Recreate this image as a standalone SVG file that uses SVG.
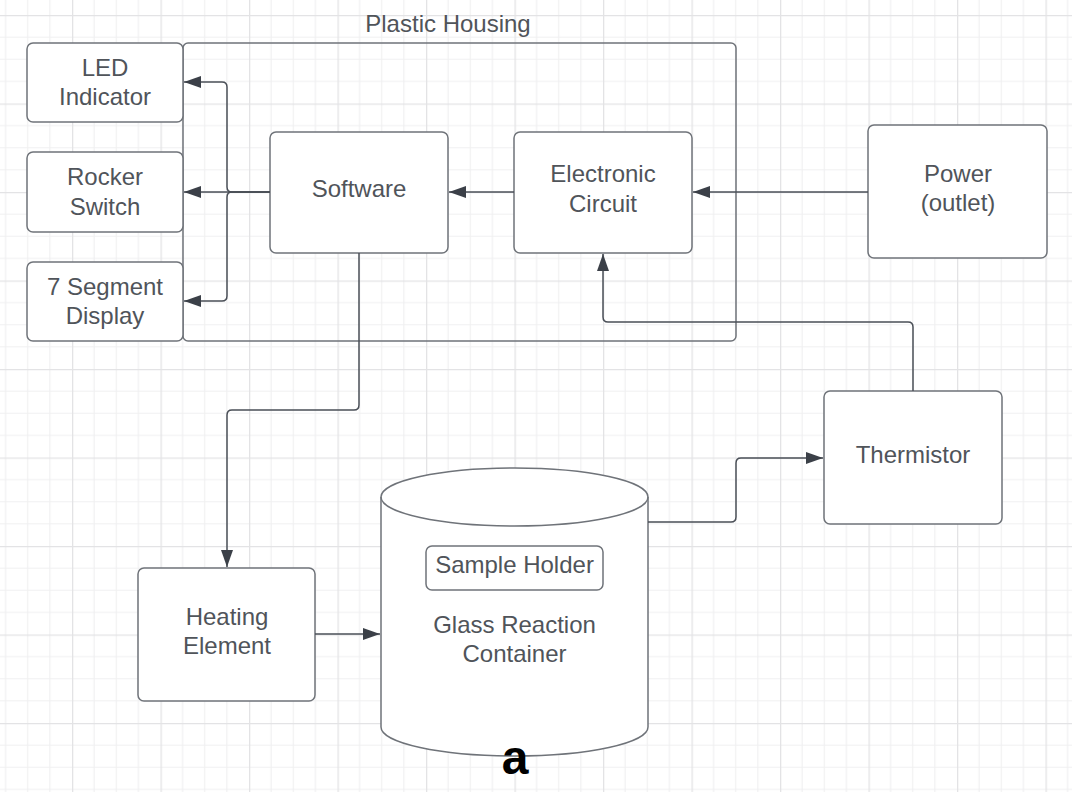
<svg xmlns="http://www.w3.org/2000/svg" width="1072" height="792" viewBox="0 0 1072 792">
<style>
.box{fill:#ffffff;stroke:#6f7379;stroke-width:1.5}
.lbl{font-family:"Liberation Sans",Arial,sans-serif;font-size:24px;fill:#50545a;text-anchor:middle}
.con{fill:none;stroke:#4a4f57;stroke-width:1.5}
</style>
<defs>
<pattern id="grid" patternUnits="userSpaceOnUse" x="72" y="15" width="88.5" height="88.5">
<path d="M22.125,0V88.5M44.25,0V88.5M66.375,0V88.5M0,22.125H88.5M0,44.25H88.5M0,66.375H88.5" stroke="#f0f0f1" stroke-width="1.2" fill="none"/>
<path d="M0.5,0V88.5M0,0.5H88.5" stroke="#e3e3e5" stroke-width="1.6" fill="none"/>
</pattern>
<marker id="arr" markerUnits="userSpaceOnUse" markerWidth="18" markerHeight="12" refX="17" refY="6" orient="auto">
<path d="M0,0 L17,6 L0,12 z" fill="#3b4048"/>
</marker>
</defs>
<rect x="0" y="0" width="1072" height="792" fill="#ffffff"/>
<rect x="0" y="0" width="1072" height="792" fill="url(#grid)"/>

<g id="plastic-housing">
<rect class="box" x="183" y="43" width="553" height="298" rx="5" fill="none" style="fill:none"/>
<text class="lbl" x="448" y="32">Plastic Housing</text>
</g>

<g id="led-indicator">
<rect class="box" x="27" y="43" width="156" height="79" rx="6"/>
<text class="lbl" x="105" y="76">LED</text>
<text class="lbl" x="105" y="105">Indicator</text>
</g>

<g id="rocker-switch">
<rect class="box" x="27" y="152" width="156" height="80" rx="6"/>
<text class="lbl" x="105" y="185">Rocker</text>
<text class="lbl" x="105" y="215">Switch</text>
</g>

<g id="seven-segment">
<rect class="box" x="27" y="262" width="156" height="79" rx="6"/>
<text class="lbl" x="105" y="295">7 Segment</text>
<text class="lbl" x="105" y="324">Display</text>
</g>

<g id="software">
<rect class="box" x="270" y="132" width="178" height="121" rx="6"/>
<text class="lbl" x="359" y="197">Software</text>
</g>

<g id="electronic-circuit">
<rect class="box" x="514" y="132" width="178" height="121" rx="6"/>
<text class="lbl" x="603" y="182">Electronic</text>
<text class="lbl" x="603" y="212">Circuit</text>
</g>

<g id="power">
<rect class="box" x="868" y="125" width="179" height="133" rx="6"/>
<text class="lbl" x="958" y="182">Power</text>
<text class="lbl" x="958" y="211">(outlet)</text>
</g>

<g id="thermistor">
<rect class="box" x="824" y="391" width="178" height="133" rx="6"/>
<text class="lbl" x="913" y="463">Thermistor</text>
</g>

<g id="heating-element">
<rect class="box" x="138" y="568" width="177" height="133" rx="6"/>
<text class="lbl" x="227" y="625">Heating</text>
<text class="lbl" x="227" y="654">Element</text>
</g>

<g id="glass-container">
<path class="box" d="M381,497 A133.5,29 0 0 1 648,497 V727 A133.5,29 0 0 1 381,727 Z"/>
<path class="box" d="M381,497 A133.5,29 0 0 0 648,497" style="fill:none"/>
<text class="lbl" x="514.5" y="633">Glass Reaction</text>
<text class="lbl" x="514.5" y="662">Container</text>
</g>

<g id="sample-holder">
<rect class="box" x="426" y="546" width="177" height="44" rx="6"/>
<text class="lbl" x="514.5" y="573">Sample Holder</text>
</g>

<g id="connectors">
<path class="con" marker-end="url(#arr)" d="M270,192 H232 Q227,192 227,187 V87 Q227,82 222,82 H184"/>
<path class="con" marker-end="url(#arr)" d="M270,192 H184"/>
<path class="con" marker-end="url(#arr)" d="M270,192 H232 Q227,192 227,197 V296 Q227,301 222,301 H184"/>
<path class="con" marker-end="url(#arr)" d="M514,192 H449"/>
<path class="con" marker-end="url(#arr)" d="M868,192 H693"/>
<path class="con" marker-end="url(#arr)" d="M913,391 V327 Q913,322 908,322 H608 Q603,322 603,317 V254"/>
<path class="con" marker-end="url(#arr)" d="M359,253 V405 Q359,410 354,410 H232 Q227,410 227,415 V567"/>
<path class="con" marker-end="url(#arr)" d="M315,634 H380"/>
<path class="con" marker-end="url(#arr)" d="M648,522 H731 Q736,522 736,517 V463 Q736,458 741,458 H823"/>
</g>

<text x="515" y="774" font-family="Liberation Sans,Arial,sans-serif" font-size="48" font-weight="bold" fill="#000000" text-anchor="middle">a</text>
</svg>
